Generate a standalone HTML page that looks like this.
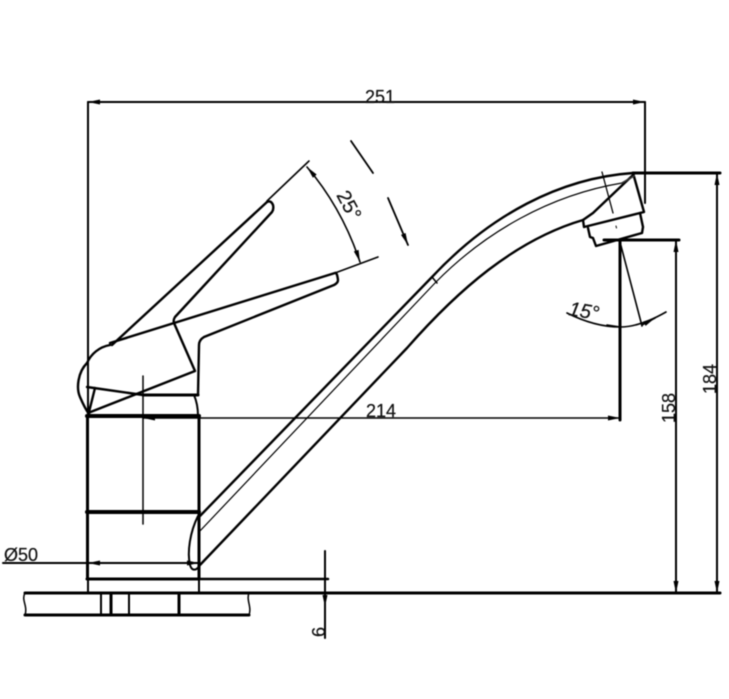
<!DOCTYPE html>
<html><head><meta charset="utf-8"><style>
html,body{margin:0;padding:0;background:#fff;width:729px;height:699px;overflow:hidden}
svg{display:block;filter:blur(.45px)}
text{font-family:"Liberation Sans",sans-serif;font-size:18px;fill:#111;stroke:#111;stroke-width:.2px}
</style></head><body>
<svg width="729" height="699" viewBox="0 0 729 699" fill="none" stroke="#000" stroke-linecap="round" stroke-linejoin="round">
<defs>
<marker id="a" viewBox="0 0 12 6" refX="12" refY="3" markerWidth="13" markerHeight="6" markerUnits="userSpaceOnUse" orient="auto-start-reverse"><path d="M0 .5L12 3L0 5.500Z" fill="#000" stroke="none"/></marker>
</defs>
<!-- overall dimensions -->
<g stroke-width="2">
<path d="M88 102V416"/>
<path d="M645 102V203"/>
<path d="M88 102H645" marker-start="url(#a)" marker-end="url(#a)"/>
<path d="M717 173V593" marker-start="url(#a)" marker-end="url(#a)"/>
<path d="M676 240V593" marker-start="url(#a)" marker-end="url(#a)"/>
<path d="M143 418H620" stroke-width="1.6" marker-start="url(#a)" marker-end="url(#a)"/>
<path d="M3 563H199"/>
<path d="M88 563H199" marker-start="url(#a)" marker-end="url(#a)"/>
<path d="M143 376V524" stroke-width="1.5"/>
<path d="M325 551V638"/>
</g>
<path d="M325 579L325 565M325 593L325 607" stroke-width="2" marker-end="url(#a)"/>
<g stroke-width="3">
<path d="M633 173H720"/>
<path d="M604 240H679"/>
<path d="M620 240V420"/>
<path d="M25 593H720"/>
<path d="M25 615H249"/>
<path d="M199 579H328" stroke-width="2.5"/>
</g>
<!-- break curves -->
<path d="M25 593C21 600 28 606 25 615M249 593C246 600 252 607 249 615" stroke-width="1.5"/>
<!-- base -->
<g stroke-width="3">
<path d="M87.500 416V579M199 416V579"/>
<path d="M87 416H199" stroke-width="4"/>
<path d="M87 512H199" stroke-width="4"/>
<path d="M87 579H199"/>
<path d="M111 593V615M179 593V615"/>
</g>
<path d="M101 593V615M129 593V615M88 579V593M199 579V593" stroke-width="2"/>
<path d="M194 395C197 402 198 408 198 416" stroke-width="2"/>
<!-- lever -->
<g stroke-width="2.400">
<path d="M112 345L267 202Q271 200 273 205Q274 209 272 212L175 317Q173 320 174 323L195 371L88 413"/>
<path d="M110 343L335 273Q337 272 338 280Q338 283 334 285L204 337Q199 340 199 345L198 395H143L87 387"/>
<path d="M143 395H198" stroke-width="3"/>
<path d="M110 345C99 347 91 354 87 363C78 372 76 388 80 397C83 404 86 410 89 414M95 388L89 412"/>
</g>
<g stroke-width="1.600">
<path d="M267 201L309 161"/>
<path d="M335 273L378 257"/>
<path d="M307 167Q342 208 360 262" marker-start="url(#a)" marker-end="url(#a)"/>
<path d="M351 141L373 173" stroke-width="1.800"/>
<path d="M388 198L408 245" stroke-width="1.800" marker-end="url(#a)"/>
</g>
<!-- spout -->
<g stroke-width="2.400">
<path d="M199 517L432 277C490 215 560 178 633 173"/>
<path d="M199 566L407 348C458 290 515 240 583 220"/>
<path d="M198 516C190 532 187 552 190 565C192 572 197 570 199 566" stroke-width="2"/>
<path d="M633 173L644 212L584 227L583 220"/>
<path d="M583 220L593 213L633 175"/>
<path d="M640 213L643 227L642 233L596 246L593 238L590 237L588 228"/>
</g>
<path d="M199 532L435 283C485 232 550 195 622 183" stroke-width="1.200"/>
<path d="M622 183L634 176" stroke-width="1.600" stroke="#333"/>
<path d="M432 277L437 283" stroke-width="1.500"/>
<path d="M602 172L613 213" stroke-width="1.300"/>
<path d="M616 226L616.500 228" stroke-width="1"/>
<path d="M620 242L642 326" stroke-width="1.600"/>
<path d="M567 313C585 322 603 327 620 327C635 327 652 320 666 312" stroke-width="1.600"/>
<path d="M620 327L607 325M642 325L655 318" stroke-width="1.600" marker-end="url(#a)"/>
<!-- labels -->
<g>
<text x="365" y="103">251</text>
<text x="366" y="417">214</text>
<text x="4" y="561">Ø50</text>
<text transform="translate(325,637) rotate(-90)">6</text>
<text transform="translate(675,423) rotate(-90)">158</text>
<text transform="translate(716,394) rotate(-90)">184</text>
<text transform="translate(336,195) rotate(62)" style="font-size:20px">25°</text>
<text transform="translate(568,315) rotate(10)" font-style="italic" style="font-size:20px">15°</text>
</g>
</svg>
</body></html>
